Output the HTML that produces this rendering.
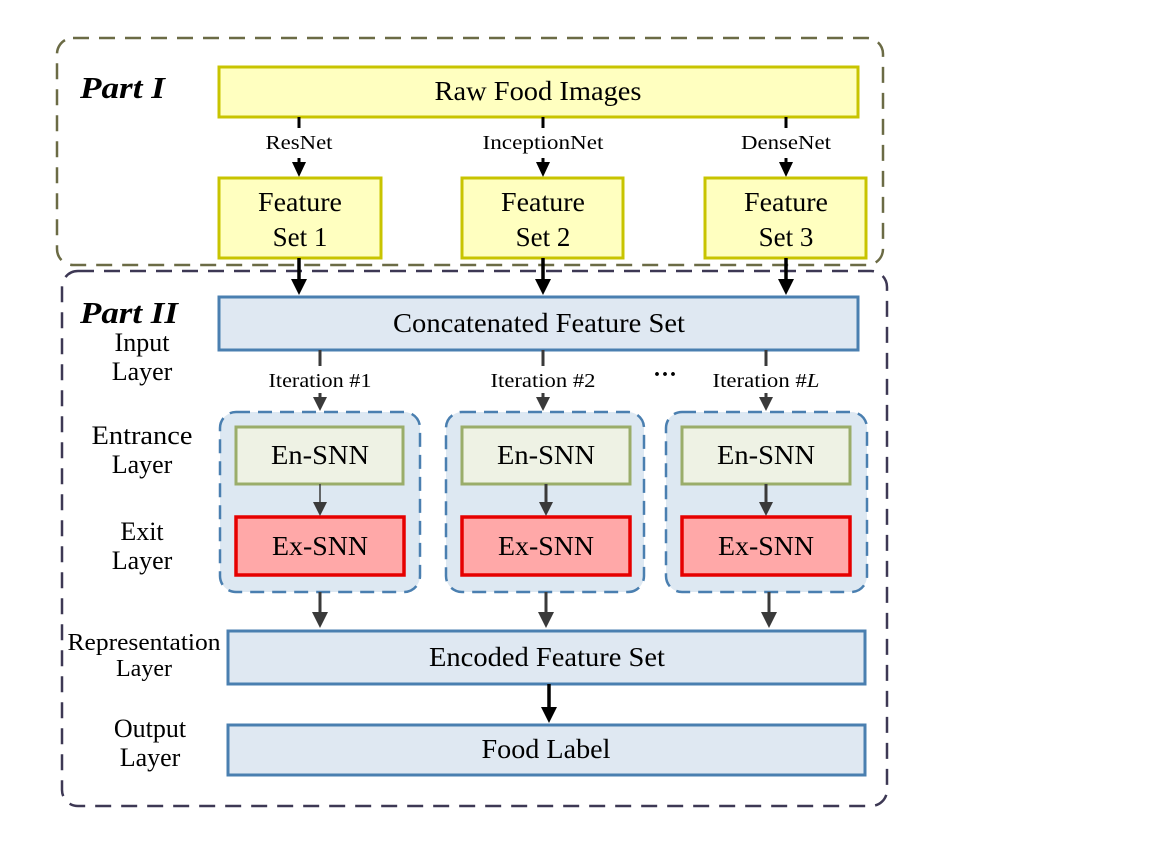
<!DOCTYPE html>
<html><head><meta charset="utf-8"><style>
html,body{margin:0;padding:0;background:#fff;}
svg{display:block;font-family:"Liberation Serif",serif;}
</style></head><body>
<svg width="1152" height="847" viewBox="0 0 1152 847" xmlns="http://www.w3.org/2000/svg">
<!-- Part boxes -->
<rect x="57" y="38" width="826" height="227" rx="16" fill="none" stroke="#6b6b45" stroke-width="2.5" stroke-dasharray="16,10"/>
<rect x="62" y="271" width="825" height="535" rx="16" fill="none" stroke="#3d3854" stroke-width="2.5" stroke-dasharray="16,10"/>
<text x="80" y="98" font-size="31" font-weight="bold" font-style="italic" textLength="85" lengthAdjust="spacingAndGlyphs">Part I</text>
<text x="80" y="323" font-size="31" font-weight="bold" font-style="italic" textLength="98" lengthAdjust="spacingAndGlyphs">Part II</text>

<!-- Part I -->
<rect x="219" y="67" width="639" height="50" fill="#ffffc0" stroke="#c8c400" stroke-width="3"/>
<text x="538" y="100" font-size="27" text-anchor="middle" textLength="207" lengthAdjust="spacingAndGlyphs">Raw Food Images</text>
<g font-size="20" text-anchor="middle">
<text x="299" y="149" textLength="67" lengthAdjust="spacingAndGlyphs">ResNet</text>
<text x="543" y="149" textLength="121" lengthAdjust="spacingAndGlyphs">InceptionNet</text>
<text x="786" y="149" textLength="90" lengthAdjust="spacingAndGlyphs">DenseNet</text>
</g>
<g stroke="#000" stroke-width="3">
<line x1="299" y1="117" x2="299" y2="128"/><line x1="543" y1="117" x2="543" y2="128"/><line x1="786" y1="117" x2="786" y2="128"/>
<line x1="299" y1="158" x2="299" y2="164"/><line x1="543" y1="158" x2="543" y2="164"/><line x1="786" y1="158" x2="786" y2="164"/>
</g>
<g fill="#000">
<path d="M292,162 L306,162 L299,177 Z"/><path d="M536,162 L550,162 L543,177 Z"/><path d="M779,162 L793,162 L786,177 Z"/>
</g>
<g fill="#ffffc0" stroke="#c8c400" stroke-width="3">
<rect x="219" y="178" width="162" height="80"/>
<rect x="462" y="178" width="161" height="80"/>
<rect x="705" y="178" width="161" height="80"/>
</g>
<g font-size="27" text-anchor="middle">
<text x="300" y="211" textLength="84" lengthAdjust="spacingAndGlyphs">Feature</text><text x="300" y="246">Set 1</text>
<text x="543" y="211" textLength="84" lengthAdjust="spacingAndGlyphs">Feature</text><text x="543" y="246">Set 2</text>
<text x="786" y="211" textLength="84" lengthAdjust="spacingAndGlyphs">Feature</text><text x="786" y="246">Set 3</text>
</g>
<g stroke="#000" stroke-width="3.5">
<line x1="299" y1="258" x2="299" y2="282"/><line x1="543" y1="258" x2="543" y2="282"/><line x1="786" y1="258" x2="786" y2="282"/>
</g>
<g fill="#000">
<path d="M291,279 L307,279 L299,295 Z"/><path d="M535,279 L551,279 L543,295 Z"/><path d="M778,279 L794,279 L786,295 Z"/>
</g>

<!-- Part II -->
<rect x="219" y="297" width="639" height="53" fill="#dfe8f2" stroke="#4a7fb0" stroke-width="3"/>
<text x="539" y="332" font-size="27" text-anchor="middle" textLength="292" lengthAdjust="spacingAndGlyphs">Concatenated Feature Set</text>

<g font-size="26" text-anchor="middle">
<text x="142" y="351">Input</text><text x="142" y="380">Layer</text>
<text x="142" y="444" textLength="101" lengthAdjust="spacingAndGlyphs">Entrance</text><text x="142" y="473">Layer</text>
<text x="142" y="540">Exit</text><text x="142" y="569">Layer</text>
<text x="144" y="650" font-size="24" textLength="153" lengthAdjust="spacingAndGlyphs">Representation</text><text x="144" y="676" font-size="24">Layer</text>
<text x="150" y="737">Output</text><text x="150" y="766">Layer</text>
</g>

<g font-size="20" text-anchor="middle">
<text x="320" y="387" textLength="103" lengthAdjust="spacingAndGlyphs">Iteration #1</text>
<text x="543" y="387" textLength="105" lengthAdjust="spacingAndGlyphs">Iteration #2</text>
<text x="766" y="387" textLength="107" lengthAdjust="spacingAndGlyphs">Iteration #<tspan font-style="italic">L</tspan></text>
</g>
<text x="665" y="382" font-size="24" text-anchor="middle" font-weight="bold">···</text>
<g stroke="#3a3a3a" stroke-width="3">
<line x1="320" y1="350" x2="320" y2="366"/><line x1="543" y1="350" x2="543" y2="366"/><line x1="766" y1="350" x2="766" y2="366"/>
<line x1="320" y1="393" x2="320" y2="400"/><line x1="543" y1="393" x2="543" y2="400"/><line x1="766" y1="393" x2="766" y2="400"/>
</g>
<g fill="#3a3a3a">
<path d="M313,397 L327,397 L320,411 Z"/><path d="M536,397 L550,397 L543,411 Z"/><path d="M759,397 L773,397 L766,411 Z"/>
</g>

<!-- groups -->
<g fill="#dde8f2" stroke="#4a7fb0" stroke-width="2.5" stroke-dasharray="14,8">
<rect x="220" y="412" width="200" height="180" rx="16"/>
<rect x="446" y="412" width="198" height="180" rx="16"/>
<rect x="666" y="412" width="201" height="180" rx="16"/>
</g>
<g fill="#eef2e4" stroke="#9aad6a" stroke-width="3">
<rect x="236" y="427" width="167" height="57"/>
<rect x="462" y="427" width="168" height="57"/>
<rect x="682" y="427" width="168" height="57"/>
</g>
<g fill="#ffa8a8" stroke="#e60000" stroke-width="3.5">
<rect x="236" y="517" width="168" height="58"/>
<rect x="462" y="517" width="168" height="58"/>
<rect x="682" y="517" width="168" height="58"/>
</g>
<g font-size="27" text-anchor="middle">
<text x="320" y="464" textLength="98" lengthAdjust="spacingAndGlyphs">En-SNN</text><text x="546" y="464" textLength="98" lengthAdjust="spacingAndGlyphs">En-SNN</text><text x="766" y="464" textLength="98" lengthAdjust="spacingAndGlyphs">En-SNN</text>
<text x="320" y="555" textLength="96" lengthAdjust="spacingAndGlyphs">Ex-SNN</text><text x="546" y="555" textLength="96" lengthAdjust="spacingAndGlyphs">Ex-SNN</text><text x="766" y="555" textLength="96" lengthAdjust="spacingAndGlyphs">Ex-SNN</text>
</g>
<g stroke="#3a3a3a">
<line x1="320" y1="484" x2="320" y2="505" stroke-width="1.5"/>
<line x1="546" y1="484" x2="546" y2="505" stroke-width="3"/>
<line x1="766" y1="484" x2="766" y2="505" stroke-width="3"/>
<line x1="320" y1="592" x2="320" y2="615" stroke-width="3"/>
<line x1="546" y1="592" x2="546" y2="615" stroke-width="3"/>
<line x1="769" y1="592" x2="769" y2="615" stroke-width="3"/>
</g>
<g fill="#3a3a3a">
<path d="M313,502 L327,502 L320,516 Z"/><path d="M539,502 L553,502 L546,516 Z"/><path d="M759,502 L773,502 L766,516 Z"/>
<path d="M312,612 L328,612 L320,628 Z"/><path d="M538,612 L554,612 L546,628 Z"/><path d="M761,612 L777,612 L769,628 Z"/>
</g>

<rect x="228" y="631" width="637" height="53" fill="#dfe8f2" stroke="#4a7fb0" stroke-width="3"/>
<text x="547" y="666" font-size="27" text-anchor="middle" textLength="236" lengthAdjust="spacingAndGlyphs">Encoded Feature Set</text>
<line x1="549" y1="684" x2="549" y2="710" stroke="#000" stroke-width="3.5"/>
<path d="M541,707 L557,707 L549,723 Z" fill="#000"/>
<rect x="228" y="725" width="637" height="50" fill="#dfe8f2" stroke="#4a7fb0" stroke-width="3"/>
<text x="546" y="758" font-size="27" text-anchor="middle" textLength="129" lengthAdjust="spacingAndGlyphs">Food Label</text>
</svg>
</body></html>
